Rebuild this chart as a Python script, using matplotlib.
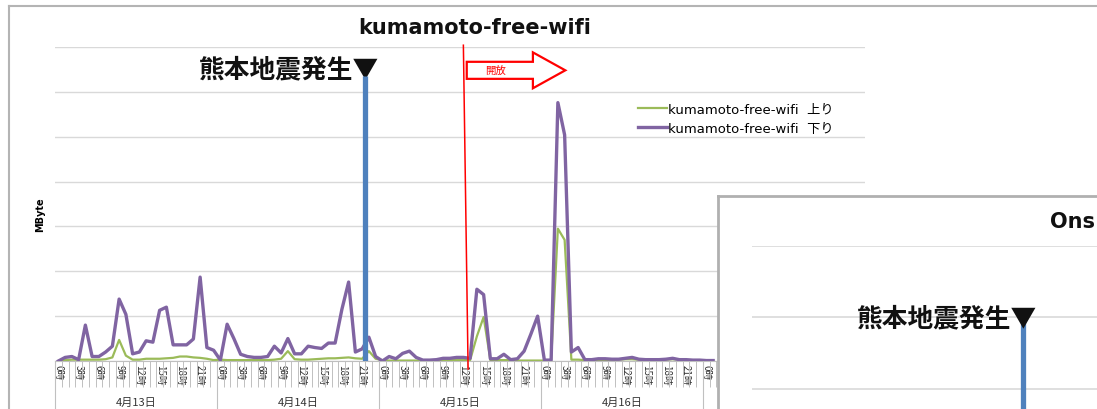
import matplotlib
matplotlib.use('Agg')
import matplotlib.pyplot as plt
import matplotlib.patches as mpatches
import numpy as np

plt.rcParams['font.family'] = ['DejaVu Sans', 'Noto Sans CJK JP']

# hourly traffic (MByte), 4/13 0時 .. 4/17 1時
days = ['4月13日', '4月14日', '4月15日', '4月16日', '4月17日']
hour_labels = ['0時', '3時', '6時', '9時', '12時', '15時', '18時', '21時']
down = [0, 8, 10, 3, 80, 10, 10, 20, 33, 138, 104, 16, 20, 45, 42, 113, 120, 36, 36, 36, 49, 187, 30, 24,
        2, 82, 50, 15, 10, 8, 8, 10, 33, 18, 50, 16, 16, 33, 30, 28, 40, 40, 115, 176, 20, 27, 53, 10,
        0, 10, 5, 17, 22, 8, 2, 2, 3, 6, 6, 8, 8, 6, 160, 148, 5, 5, 15, 3, 5, 22, 60, 100,
        2, 2, 576, 504, 20, 30, 3, 3, 5, 5, 4, 4, 6, 8, 4, 3, 3, 3, 4, 6, 3, 3, 2, 2,
        1, 1]
up = [0, 2, 3, 3, 3, 3, 3, 4, 8, 47, 12, 3, 3, 5, 5, 5, 6, 7, 10, 10, 8, 7, 5, 2,
      3, 2, 2, 2, 2, 2, 2, 2, 3, 5, 22, 4, 3, 3, 4, 5, 6, 6, 7, 8, 6, 5, 22, 5,
      2, 1, 1, 1, 1, 1, 1, 1, 1, 2, 2, 2, 2, 2, 55, 98, 2, 2, 2, 2, 1, 1, 1, 1,
      1, 1, 295, 270, 3, 3, 2, 2, 2, 2, 3, 3, 4, 4, 3, 3, 2, 2, 3, 4, 3, 2, 2, 2,
      1, 1]
quake_x = 45.4          # 4/14 21:26
release_x = [60.0, 60.7]

W, H = 1097, 410
fig = plt.figure(figsize=(W / 100, H / 100), dpi=100)

# outer chart frame
bg = fig.add_axes([9 / W, 0, 1, (H - 7) / H])
bg.set_xticks([]); bg.set_yticks([])
for s in ['bottom', 'right']:
    bg.spines[s].set_visible(False)
for s in ['left', 'top']:
    bg.spines[s].set_color('#b4b4b4')
    bg.spines[s].set_linewidth(1.5)

ax = fig.add_axes([55 / W, 48 / H, 810 / W, 314 / H])
ax.set_facecolor('none')
n_hours = 24 * len(days)
x = np.arange(len(down))
ax.plot(x, up, color='#9BBB59', lw=1.6, label='kumamoto-free-wifi  上り', zorder=3)
ax.plot(x, down, color='#8064A2', lw=2.4, label='kumamoto-free-wifi  下り', zorder=3)
ax.set_xlim(-0.5, n_hours - 0.5)
ax.set_ylim(0, 700)
ax.set_yticks(np.arange(0, 701, 100))
ax.set_yticklabels([])
ax.tick_params(axis='y', length=0)
ax.grid(axis='y', color='#d9d9d9', lw=1)
ax.set_axisbelow(True)
for s in ['left', 'right', 'top']:
    ax.spines[s].set_visible(False)
ax.spines['bottom'].set_color('#bfbfbf')

# hour labels and separators
pos = [d * 24 + h for d in range(len(days)) for h in range(0, 24, 3)]
labs = hour_labels * len(days)
ax.set_xticks(pos)
ax.set_xticklabels(labs, rotation=-90, fontsize=7, family=['Noto Sans CJK JP'])
ax.tick_params(axis='x', length=0, pad=2, colors='#333333')
ax.set_xticks(np.arange(-0.5, n_hours, 1), minor=True)
ax.tick_params(axis='x', which='minor', length=19, width=0.7, color='#c0c0c0', direction='out')
for d, name in enumerate(days):
    ax.axvline(-0.5 + 24 * d, ymin=-0.16, ymax=0, clip_on=False, color='#c0c0c0', lw=0.8)
    ax.text(d * 24 + 11.5, -0.13, name, transform=ax.get_xaxis_transform(),
            ha='center', va='center', fontsize=8, family=['Noto Sans CJK JP'], color='#333333')

# earthquake marker
ax.vlines(quake_x, 0, 635, color='#4F81BD', lw=3.8, zorder=4)
ax.annotate('熊本地震発生▼', xy=(quake_x, 650), xytext=(10, 0), textcoords='offset points',
            ha='right', va='center', fontsize=18.5, fontweight='bold',
            family=['Noto Sans CJK JP'], color='#111111')

# free wifi release
ax.plot(release_x, [704, -18], color='#ff0000', lw=1.1, clip_on=False, zorder=4)
ax.add_patch(mpatches.FancyArrow(60.5, 648, 14.6, 0, width=38, head_width=80, head_length=4.8,
                                 length_includes_head=True, fc='white', ec='#ff0000', lw=1.6, zorder=4))
ax.text(64.7, 648, '開放', color='#ff0000', fontsize=7.5, ha='center', va='center',
        family=['Noto Sans CJK JP'], zorder=5)

leg = ax.legend(loc='upper left', bbox_to_anchor=(638 / W, 1 - 104 / H), bbox_transform=fig.transFigure,
                frameon=False, fontsize=9.5, handlelength=2.2, handletextpad=0.1,
                labelspacing=0.45, borderpad=0, borderaxespad=0)

fig.text(475 / W, 1 - 28 / H, 'kumamoto-free-wifi', ha='center', va='center',
         fontsize=15, fontweight='bold', color='#111111')
fig.text(40 / W, 1 - 215 / H, 'MByte', rotation=90, ha='center', va='center',
         fontsize=7, family=['Liberation Sans Narrow', 'DejaVu Sans'], fontweight='bold')

# overlapping second chart
fr = fig.add_axes([718 / W, 0, 1, (H - 197) / H])
fr.set_facecolor('white')
fr.set_xticks([]); fr.set_yticks([])
for s in ['bottom', 'right']:
    fr.spines[s].set_visible(False)
for s in ['left', 'top']:
    fr.spines[s].set_color('#b0b0b0')
    fr.spines[s].set_linewidth(2)

inn_w = 545
inn = fig.add_axes([752 / W, 0, inn_w / W, (H - 247) / H])
inn.set_facecolor('none')
inn.set_xlim(-0.5, -0.5 + inn_w / 5.904)
inn.set_ylim(-0.28, 2)
inn.set_yticks([0, 1, 2])
inn.set_xticks([])
inn.tick_params(axis='y', length=0, labelleft=False)
inn.grid(axis='y', color='#d9d9d9', lw=1.2)
for s in inn.spines.values():
    s.set_visible(False)
inn.vlines(quake_x, -0.28, 0.95, color='#4F81BD', lw=3.8)
inn.annotate('熊本地震発生▼', xy=(quake_x, 1.0), xytext=(10, 0), textcoords='offset points',
             ha='right', va='center', fontsize=18.5, fontweight='bold',
             family=['Noto Sans CJK JP'], color='#111111')
fig.text(1050 / W, 1 - 222 / H, 'Ons', ha='left', va='center',
         fontsize=15, fontweight='bold', color='#111111')

fig.savefig('out.png', dpi=100)
